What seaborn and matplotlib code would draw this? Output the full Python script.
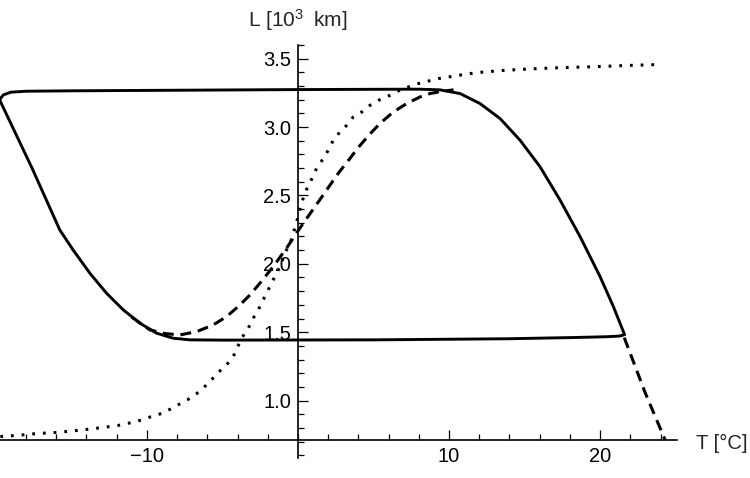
import numpy as np
import pandas as pd
import matplotlib
matplotlib.use("Agg")
import matplotlib.pyplot as plt
import seaborn as sns

# ---- data ----
loop_T = [-19.75, -19.5, -19.0, -18.0, -15.0, -10.0, -5.0, 0.0, 5.0, 8.0, 9.40,
          10.73, 12.05, 13.38, 14.70, 16.03, 17.35, 18.68, 20.0, 20.88, 21.62,
          21.3, 20.5, 18.3, 13.9, 5.1, 0.0, -5.0, -7.15, -8.26, -9.36, -10.46, -11.57,
          -12.67, -13.77, -14.88, -15.76, -17.6, -19.75]
loop_L = [3.20, 3.235, 3.255, 3.262, 3.265, 3.268, 3.271, 3.274, 3.276, 3.277, 3.272,
          3.245, 3.172, 3.062, 2.904, 2.709, 2.466, 2.198, 1.906, 1.687, 1.482,
          1.472, 1.467, 1.461, 1.452, 1.444, 1.443, 1.442, 1.444, 1.456, 1.493, 1.566, 1.664,
          1.785, 1.931, 2.101, 2.247, 2.700, 3.20]

dash_T = [-11.0, -9.80, -8.8, -7.81, -6.71, -5.61, -4.72, -3.84, -3.18, -2.52, -1.64,
          -0.75, 0.0, 0.79, 1.46, 2.12, 2.67, 3.44, 3.99, 4.77, 5.43, 6.31, 7.20, 8.08,
          8.74, 9.52, 10.3]
dash_L = [1.61, 1.517, 1.49, 1.480, 1.504, 1.553, 1.614, 1.699, 1.772, 1.858, 1.979,
          2.115, 2.240, 2.365, 2.470, 2.575, 2.662, 2.770, 2.850, 2.950, 3.026, 3.110, 3.172, 3.220,
          3.245, 3.261, 3.272]

dash2_T = [21.6, 22.98, 24.3]
dash2_L = [1.46, 1.058, 0.713]

dot_T = [-19.7, -18.74, -17.37, -15.98, -14.55, -13.22, -11.90, -10.68, -9.87, -8.92,
         -7.93, -7.30, -6.71, -6.27, -5.72, -5.28, -4.72, -4.28, -4.0, -3.73, -3.29,
         -2.96, -2.63, -2.30, -1.97, -1.64, -1.19, -0.86, -0.42, -0.1, 0.13, 0.46, 0.91,
         1.24, 1.68, 2.01, 2.34, 2.78, 3.23, 3.66, 4.22, 4.77, 5.43, 6.09, 6.64, 7.30,
         7.97, 8.63, 9.29, 9.95, 10.62, 11.39, 12.05, 13.44, 14.83, 16.16, 17.55, 18.94,
         20.33, 21.72, 23.9]
dot_L = [0.737, 0.744, 0.758, 0.767, 0.782, 0.799, 0.818, 0.847, 0.877, 0.909,
         0.969, 1.006, 1.050, 1.091, 1.152, 1.205, 1.261, 1.322, 1.39, 1.456, 1.529,
         1.602, 1.663, 1.736, 1.809, 1.882, 1.979, 2.077, 2.18, 2.30, 2.40, 2.52, 2.62,
         2.70, 2.770, 2.831, 2.904, 2.964, 3.013, 3.074, 3.110, 3.159, 3.201, 3.232, 3.264, 3.293,
         3.318, 3.336, 3.354, 3.366, 3.378, 3.391, 3.400, 3.413, 3.422, 3.429, 3.435, 3.439,
         3.444, 3.450, 3.457]

x_major = [-10, 10, 20]
x_labels = ["\u221210", "10", "20"]
y_major = [1.0, 1.5, 2.0, 2.5, 3.0, 3.5]
y_labels = ["1.0", "1.5", "2.0", "2.5", "3.0", "3.5"]

# ---- plot ----
sns.set_theme(style="white")
plt.rcParams["font.family"] = ["Liberation Sans", "DejaVu Sans"]
plt.rcParams["mathtext.fontset"] = "custom"
plt.rcParams["mathtext.rm"] = "Liberation Sans"
plt.rcParams["mathtext.it"] = "Liberation Sans"

fig = plt.figure(figsize=(7.5, 4.78), dpi=100)
W, H = 750, 478
x0, x1 = 0, 677
y_top, y_bot = 45, 458
ax = fig.add_axes([x0 / W, (H - y_bot) / H, (x1 - x0) / W, (y_bot - y_top) / H])

sns.lineplot(x=dot_T, y=dot_L, sort=False, estimator=None, ax=ax, color="black",
             lw=2.2, linestyle=(0, (0.9, 2.6)), dash_capstyle="butt")
sns.lineplot(x=dash_T, y=dash_L, sort=False, estimator=None, ax=ax, color="black",
             lw=2.2, linestyle=(0, (3.6, 2.2)), dash_capstyle="butt")
sns.lineplot(x=dash2_T, y=dash2_L, sort=False, estimator=None, ax=ax, color="black",
             lw=2.2, linestyle=(0, (3.6, 2.2)), dash_capstyle="butt")
sns.lineplot(x=loop_T, y=loop_L, sort=False, estimator=None, ax=ax, color="black",
             lw=2.1, solid_joinstyle="round")

ax.set_xlim(-19.72, 25.09)
ax.set_ylim(0.58, 3.60)
ax.patch.set_alpha(0)

for s in ["top", "right"]:
    ax.spines[s].set_visible(False)
ax.spines["left"].set_position(("data", 0))
ax.spines["bottom"].set_position(("data", 0.713))
for s in ["left", "bottom"]:
    ax.spines[s].set_color("black")
    ax.spines[s].set_linewidth(1.2)

ax.set_xticks(x_major)
ax.set_xticklabels(x_labels)
ax.set_xticks(np.arange(-18, 25, 2), minor=True)
ax.set_yticks(y_major)
ax.set_yticklabels(y_labels)
ax.set_yticks(np.arange(0.6, 3.61, 0.1), minor=True)
ax.tick_params(which="both", direction="in", color="black", width=0.9,
               labelsize=14.5, labelcolor="black", bottom=True, left=True)
ax.tick_params(which="major", length=7, pad=5)
ax.tick_params(which="minor", length=4)
ax.set_xlabel("")
ax.set_ylabel("")

fig.text(298 / W, 1 - 27 / H, "L [10$^{3}$\u2009 km]", ha="center", va="baseline", fontsize=15)
fig.text(696 / W, 1 - 449 / H, "T [°C]", ha="left", va="baseline", fontsize=14.5)

fig.savefig("out.png", dpi=100)
